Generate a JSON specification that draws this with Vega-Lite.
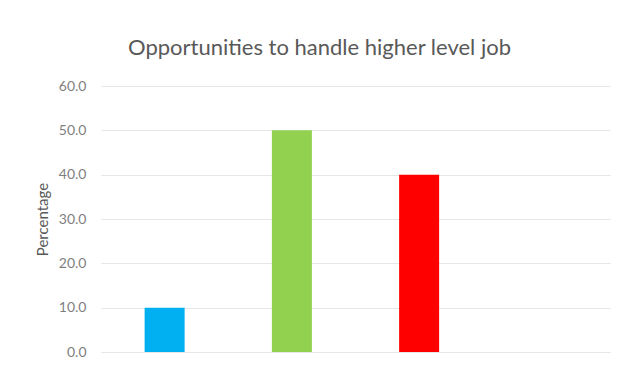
{
  "$schema": "https://vega.github.io/schema/vega-lite/v6.json",
  "autosize": "none",
  "padding": {"left": 101, "top": 86, "right": 17, "bottom": 21},
  "width": 509,
  "height": 266,
  "background": "white",
  "title": {
    "text": "Opportunities to handle higher level job",
    "font": "Lato",
    "fontSize": 22,
    "fontWeight": "normal",
    "color": "#595959",
    "anchor": "middle",
    "dx": -36,
    "offset": 19
  },
  "data": {
    "values": [
      {"category": "Category 1", "value": 10},
      {"category": "Category 2", "value": 50},
      {"category": "Category 3", "value": 40},
      {"category": "Category 4", "value": 0}
    ]
  },
  "mark": {"type": "bar", "width": 40},
  "encoding": {
    "x": {
      "field": "category",
      "type": "nominal",
      "sort": null,
      "axis": null,
      "scale": {"paddingInner": 0.686, "paddingOuter": 0.343}
    },
    "y": {
      "field": "value",
      "type": "quantitative",
      "scale": {"domain": [0, 60]},
      "axis": {
        "title": "Percentage",
        "titleFont": "Lato",
        "titleFontSize": 15,
        "titleFontWeight": "normal",
        "titleColor": "#595959",
        "titlePadding": 8,
        "values": [0, 10, 20, 30, 40, 50, 60],
        "format": ".1f",
        "labelFont": "Lato",
        "labelFontSize": 14,
        "labelColor": "#7f7f7f",
        "labelPadding": 15,
        "ticks": false,
        "domain": false,
        "grid": true,
        "gridColor": "#e6e6e6",
        "gridWidth": 1
      }
    },
    "color": {
      "field": "category",
      "type": "nominal",
      "scale": {
        "domain": ["Category 1", "Category 2", "Category 3", "Category 4"],
        "range": ["#00B0F0", "#92D050", "#FF0000", "#7F7F7F"]
      },
      "legend": null
    }
  },
  "config": {
    "view": {"stroke": null}
  }
}
